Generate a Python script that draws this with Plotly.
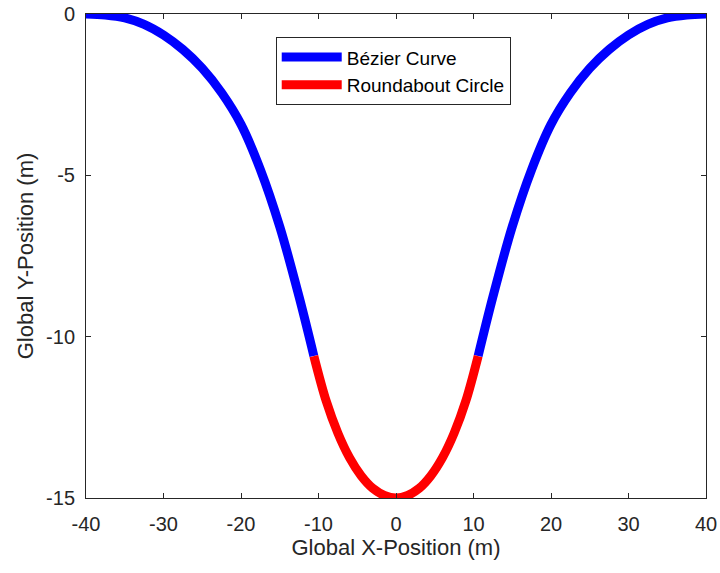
import plotly.graph_objects as go

# Bezier curve (left branch)
bez_left_x = [-40, -37.5, -35, -32.5, -30, -27.5, -25, -22.5, -20, -17.5, -15, -12.5, -10.6]
bez_left_y = [0, -0.03, -0.12, -0.32, -0.65, -1.10, -1.68, -2.44, -3.42, -4.82, -6.59, -8.77, -10.6]
# Bezier curve (right branch)
bez_right_x = [10.6, 12.5, 15, 17.5, 20, 22.5, 25, 27.5, 30, 32.5, 35, 37.5, 40]
bez_right_y = [-10.6, -8.77, -6.59, -4.82, -3.42, -2.44, -1.68, -1.10, -0.65, -0.32, -0.12, -0.03, 0]
# Roundabout circle arc
circ_x = [-10.6, -9, -7.5, -6, -4.5, -3, -1.5, 0, 1.5, 3, 4.5, 6, 7.5, 9, 10.6]
circ_y = [-10.6, -12.0, -12.99, -13.75, -14.31, -14.70, -14.92, -15, -14.92, -14.70, -14.31, -13.75, -12.99, -12.0, -10.6]

x_ticks = [-40, -30, -20, -10, 0, 10, 20, 30, 40]
y_ticks = [-15, -10, -5, 0]

AX = "#262626"
FONT = "Liberation Sans, Arial, sans-serif"

fig = go.Figure()
fig.add_trace(go.Scatter(
    x=bez_left_x + [None] + bez_right_x,
    y=bez_left_y + [None] + bez_right_y,
    mode="lines", name="Bézier Curve",
    line=dict(color="#0000ff", width=9, shape="spline", smoothing=1.0),
    connectgaps=False, cliponaxis=False,
))
fig.add_trace(go.Scatter(
    x=circ_x, y=circ_y, mode="lines", name="Roundabout Circle",
    line=dict(color="#ff0000", width=9, shape="spline", smoothing=1.0),
    cliponaxis=False,
))

axis_common = dict(
    showgrid=False, zeroline=False, showline=True, linecolor=AX, linewidth=1,
    mirror="ticks", ticks="inside", ticklen=5, tickcolor=AX, tickwidth=1,
    tickfont=dict(family=FONT, size=20, color=AX), automargin=False,
)

fig.update_layout(
    width=720, height=573,
    margin=dict(l=86, r=14, t=14, b=75),
    paper_bgcolor="white", plot_bgcolor="white",
    font=dict(family=FONT, color=AX),
    xaxis=dict(range=[-40, 40], tickvals=x_ticks, ticktext=[str(v) for v in x_ticks],
               title=dict(text="Global X-Position (m)", font=dict(family=FONT, size=22, color=AX), standoff=4),
               ticklabelstandoff=8, **axis_common),
    yaxis=dict(range=[-15, 0], tickvals=y_ticks, ticktext=[str(v) for v in y_ticks],
               title=dict(text="Global Y-Position (m)", font=dict(family=FONT, size=22, color=AX), standoff=6),
               ticklabelstandoff=6, **axis_common),
    legend=dict(x=0.306, y=0.952, xanchor="left", yanchor="top",
                bgcolor="white", bordercolor=AX, borderwidth=1,
                font=dict(family=FONT, size=19, color="#000000"),
                itemwidth=60, tracegroupgap=0),
    showlegend=True,
)

fig.write_html("out.html")
